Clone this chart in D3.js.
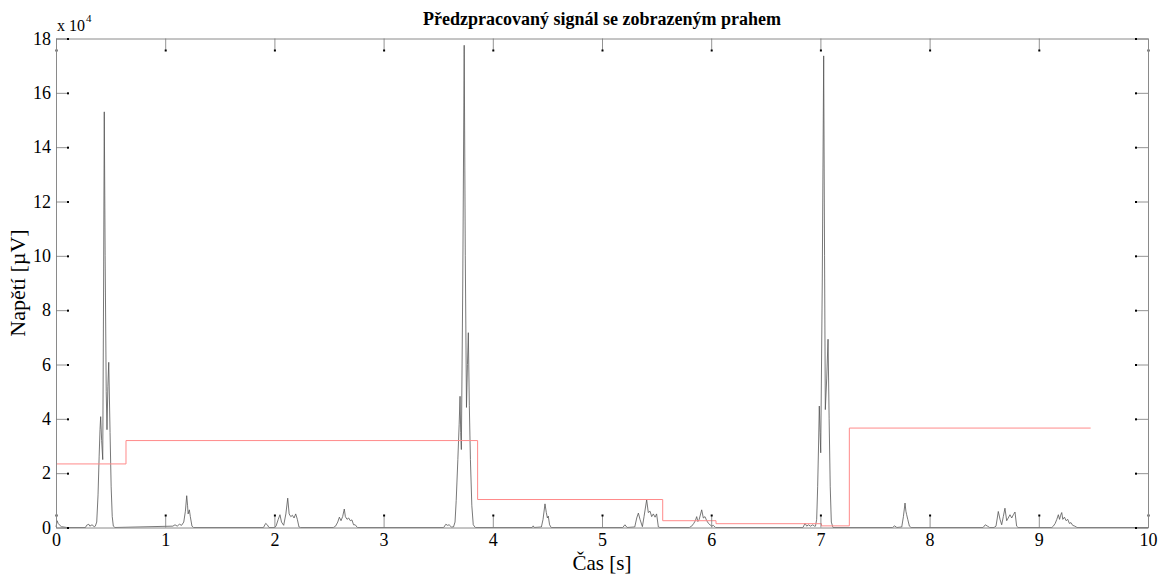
<!DOCTYPE html>
<html>
<head>
<meta charset="utf-8">
<script src="https://cdn.jsdelivr.net/npm/d3@7"></script>
<style>
  html, body { margin: 0; padding: 0; background: #fff; }
  svg { display: block; }
</style>
</head>
<body>
<svg id="chart" width="1166" height="574"></svg>
<script>
// ---- Data (values in units of 10^4 µV) ----
const titleText = "Předzpracovaný signál se zobrazeným prahem";
const xLabel = "Čas [s]";
const yLabel = "Napětí [µV]";
const xTicks = [0, 1, 2, 3, 4, 5, 6, 7, 8, 9, 10];
const yTicks = [0, 2, 4, 6, 8, 10, 12, 14, 16, 18];

const signalTime = [
  0.00, 0.01, 0.02, 0.03, 0.05, 0.10, 0.27, 0.28, 0.30, 0.31, 0.33, 0.35,
  0.36, 0.373, 0.385, 0.395, 0.403, 0.409, 0.418, 0.428, 0.436, 0.442, 0.450, 0.460,
  0.467, 0.475, 0.483, 0.495, 0.505, 0.515, 0.525, 0.54,
  1.07, 1.09, 1.11, 1.13, 1.15, 1.17, 1.185, 1.197, 1.205, 1.21, 1.221, 1.23, 1.245, 1.26,
  1.90, 1.92, 1.935, 1.95,
  2.00, 2.015, 2.035, 2.051, 2.065, 2.085, 2.105, 2.122, 2.135, 2.15, 2.165, 2.18, 2.195, 2.21, 2.225, 2.24,
  2.54, 2.56, 2.58, 2.595, 2.61, 2.625, 2.64, 2.65, 2.665, 2.68, 2.695, 2.71, 2.725, 2.74, 2.76,
  3.55, 3.57, 3.585, 3.60, 3.62,
  3.64, 3.654, 3.665, 3.68, 3.692, 3.700, 3.706, 3.712, 3.725, 3.738, 3.748, 3.759, 3.768, 3.776,
  3.785, 3.795, 3.808, 3.821, 3.84,
  4.36, 4.37, 4.38, 4.445, 4.46, 4.478, 4.49, 4.50, 4.508, 4.52, 4.535,
  5.19, 5.21, 5.23, 5.30, 5.318, 5.333, 5.348, 5.37, 5.385, 5.409, 5.424, 5.44, 5.455, 5.47, 5.486, 5.50, 5.516, 5.53,
  5.80, 5.821, 5.84, 5.855, 5.867, 5.878, 5.89, 5.913, 5.928, 5.943, 5.959, 5.975, 5.989, 6.005, 6.02, 6.04,
  6.84, 6.859, 6.875, 6.89, 6.91, 6.93, 6.945,
  6.955, 6.966, 6.975, 6.983, 6.99, 6.997, 7.003, 7.017, 7.03, 7.038, 7.045, 7.058, 7.07, 7.08, 7.09, 7.10, 7.115,
  7.66, 7.68, 7.70, 7.745, 7.76, 7.775, 7.783, 7.79, 7.80, 7.815, 7.83,
  8.49, 8.51, 8.53, 8.55,
  8.59, 8.608, 8.62, 8.629, 8.645, 8.66, 8.675, 8.69, 8.706, 8.72, 8.736, 8.752, 8.767, 8.782, 8.797, 8.81,
  9.12, 9.133, 9.15, 9.165, 9.179, 9.19, 9.20, 9.21, 9.22, 9.235, 9.25, 9.265, 9.28, 9.295, 9.31, 9.33, 9.35,
  10.0
];
const signalValue = [
  0.02, 0.25, 0.15, 0.10, 0.03, 0.00, 0.00, 0.08, 0.12, 0.05, 0.10, 0.03,
  0.05, 0.20, 1.20, 2.60, 3.60, 4.08, 3.20, 2.50, 9.00, 15.30, 10.0, 5.00,
  3.60, 5.20, 6.08, 3.50, 1.50, 0.40, 0.05, 0.00,
  0.05, 0.10, 0.05, 0.12, 0.08, 0.20, 0.60, 1.17, 0.80, 0.50, 0.65, 0.40, 0.05, 0.00,
  0.00, 0.15, 0.10, 0.00,
  0.00, 0.05, 0.30, 0.47, 0.20, 0.08, 0.50, 1.08, 0.50, 0.40, 0.45, 0.35, 0.50, 0.30, 0.02, 0.00,
  0.00, 0.05, 0.20, 0.38, 0.25, 0.40, 0.68, 0.40, 0.30, 0.35, 0.25, 0.28, 0.10, 0.10, 0.00,
  0.00, 0.12, 0.08, 0.10, 0.02,
  0.02, 0.20, 1.00, 2.50, 3.80, 4.83, 3.50, 2.87, 9.00, 17.75, 10.0, 4.42, 6.00, 7.17,
  4.50, 2.50, 0.80, 0.10, 0.00,
  0.00, 0.06, 0.00, 0.02, 0.30, 0.87, 0.55, 0.35, 0.42, 0.10, 0.00,
  0.00, 0.10, 0.00, 0.02, 0.35, 0.53, 0.30, 0.03, 0.40, 1.02, 0.55, 0.60, 0.40, 0.50, 0.38, 0.50, 0.02, 0.00,
  0.00, 0.05, 0.15, 0.25, 0.40, 0.22, 0.30, 0.65, 0.35, 0.40, 0.25, 0.15, 0.10, 0.05, 0.08, 0.00,
  0.00, 0.15, 0.05, 0.10, 0.05, 0.10, 0.05,
  0.05, 0.30, 1.50, 3.00, 4.47, 3.50, 2.75, 9.00, 17.36, 10.0, 4.34, 5.50, 6.93, 4.00, 1.50, 0.20, 0.00,
  0.00, 0.06, 0.00, 0.02, 0.40, 0.90, 0.60, 0.47, 0.30, 0.05, 0.00,
  0.00, 0.10, 0.05, 0.00,
  0.00, 0.05, 0.35, 0.59, 0.30, 0.10, 0.40, 0.71, 0.25, 0.35, 0.47, 0.35, 0.47, 0.57, 0.05, 0.00,
  0.00, 0.05, 0.15, 0.30, 0.47, 0.30, 0.45, 0.55, 0.30, 0.38, 0.25, 0.30, 0.15, 0.18, 0.08, 0.05, 0.00,
  0.00
];

const thresholdTime = [0, 0.641, 3.861, 5.556, 6.044, 7.01, 7.265, 9.475];
const thresholdValue = [2.34, 3.20, 1.03, 0.25, 0.14, 0.06, 3.66];

// ---- Layout ----
const FONT = "'Liberation Serif', 'Times New Roman', serif";
const svg = d3.select("#chart");
const mLeft = 56, mRight = 1148, mTop = 38.5, mBottom = 527.5;
const x = d3.scaleLinear().domain([0, 10]).range([mLeft, mRight]);
const y = d3.scaleLinear().domain([0, 18]).range([mBottom, mTop]);
const tickLen = 12;

// Signal
const sig = signalTime.map((t, i) => [t, signalValue[i]]);
const line = d3.line().x(d => x(d[0])).y(d => y(d[1]));
svg.append("path").datum(sig)
  .attr("d", line)
  .attr("fill", "none")
  .attr("stroke", "#555")
  .attr("stroke-width", 0.8);

// Threshold
const thr = thresholdValue.map((v, i) => [thresholdTime[i], v]);
thr.push([thresholdTime[thresholdTime.length - 1], thresholdValue[thresholdValue.length - 1]]);
const stepLine = d3.line().x(d => x(d[0])).y(d => y(d[1])).curve(d3.curveStepAfter);
svg.append("path").datum(thr)
  .attr("d", stepLine)
  .attr("fill", "none")
  .attr("stroke", "#ff8a8a")
  .attr("stroke-width", 1);

// Axes (MATLAB-like, ticks inward on all four sides)
const axB = d3.axisBottom(x).tickValues(xTicks).tickSizeInner(-tickLen).tickSizeOuter(0).tickPadding(5).tickFormat(d3.format("d"));
const axT = d3.axisTop(x).tickValues(xTicks).tickSizeInner(-tickLen).tickSizeOuter(0).tickFormat("");
const axL = d3.axisLeft(y).tickValues(yTicks).tickSizeInner(-tickLen).tickSizeOuter(0).tickPadding(5).tickFormat(d3.format("d"));
const axR = d3.axisRight(y).tickValues(yTicks).tickSizeInner(-tickLen).tickSizeOuter(0).tickFormat("");

function styleAxis(g) {
  g.attr("font-family", FONT).attr("font-size", 18);
  g.select(".domain").attr("stroke", "#8a8a8a").attr("stroke-width", 1);
  g.selectAll(".tick line").attr("stroke", "#777").attr("stroke-width", 0.8);
  g.selectAll("text").attr("fill", "#000");
}
const gB = svg.append("g").attr("transform", `translate(0,${mBottom})`).call(axB).call(styleAxis);
gB.selectAll(".tick text").attr("dy", "0.75em");
const gT = svg.append("g").attr("transform", `translate(0,${mTop})`).call(axT).call(styleAxis);
const gL = svg.append("g").attr("transform", `translate(${mLeft},0)`).call(axL).call(styleAxis);
const gR = svg.append("g").attr("transform", `translate(${mRight},0)`).call(axR).call(styleAxis);

// tick end dots
gB.selectAll(".tick").append("rect").attr("x", -1).attr("y", -tickLen - 1).attr("width", 2).attr("height", 2).attr("fill", "#000");
gT.selectAll(".tick").append("rect").attr("x", -1).attr("y", tickLen - 1).attr("width", 2).attr("height", 2).attr("fill", "#000");
gL.selectAll(".tick").append("rect").attr("x", tickLen - 1).attr("y", -1).attr("width", 2).attr("height", 2).attr("fill", "#000");
gR.selectAll(".tick").append("rect").attr("x", -tickLen - 1).attr("y", -1).attr("width", 2).attr("height", 2).attr("fill", "#000");

// Exponent label
const exp = svg.append("text").attr("x", mLeft + 1).attr("y", 31).attr("font-size", 16).attr("font-family", FONT);
exp.append("tspan").text("x 10");
exp.append("tspan").attr("font-size", 11).attr("dy", -9).attr("dx", 1).text("4");

// Title
svg.append("text")
  .attr("x", (mLeft + mRight) / 2).attr("y", 25)
  .attr("text-anchor", "middle")
  .attr("font-family", FONT)
  .attr("font-size", 18).attr("font-weight", "bold")
  .text(titleText);

// Axis labels
svg.append("text")
  .attr("x", (mLeft + mRight) / 2).attr("y", 570)
  .attr("text-anchor", "middle")
  .attr("font-family", FONT)
  .attr("font-size", 21)
  .text(xLabel);
svg.append("text")
  .attr("transform", `translate(25,${(mTop + mBottom) / 2}) rotate(-90)`)
  .attr("text-anchor", "middle")
  .attr("font-family", FONT)
  .attr("font-size", 22)
  .text(yLabel);
</script>
</body>
</html>
